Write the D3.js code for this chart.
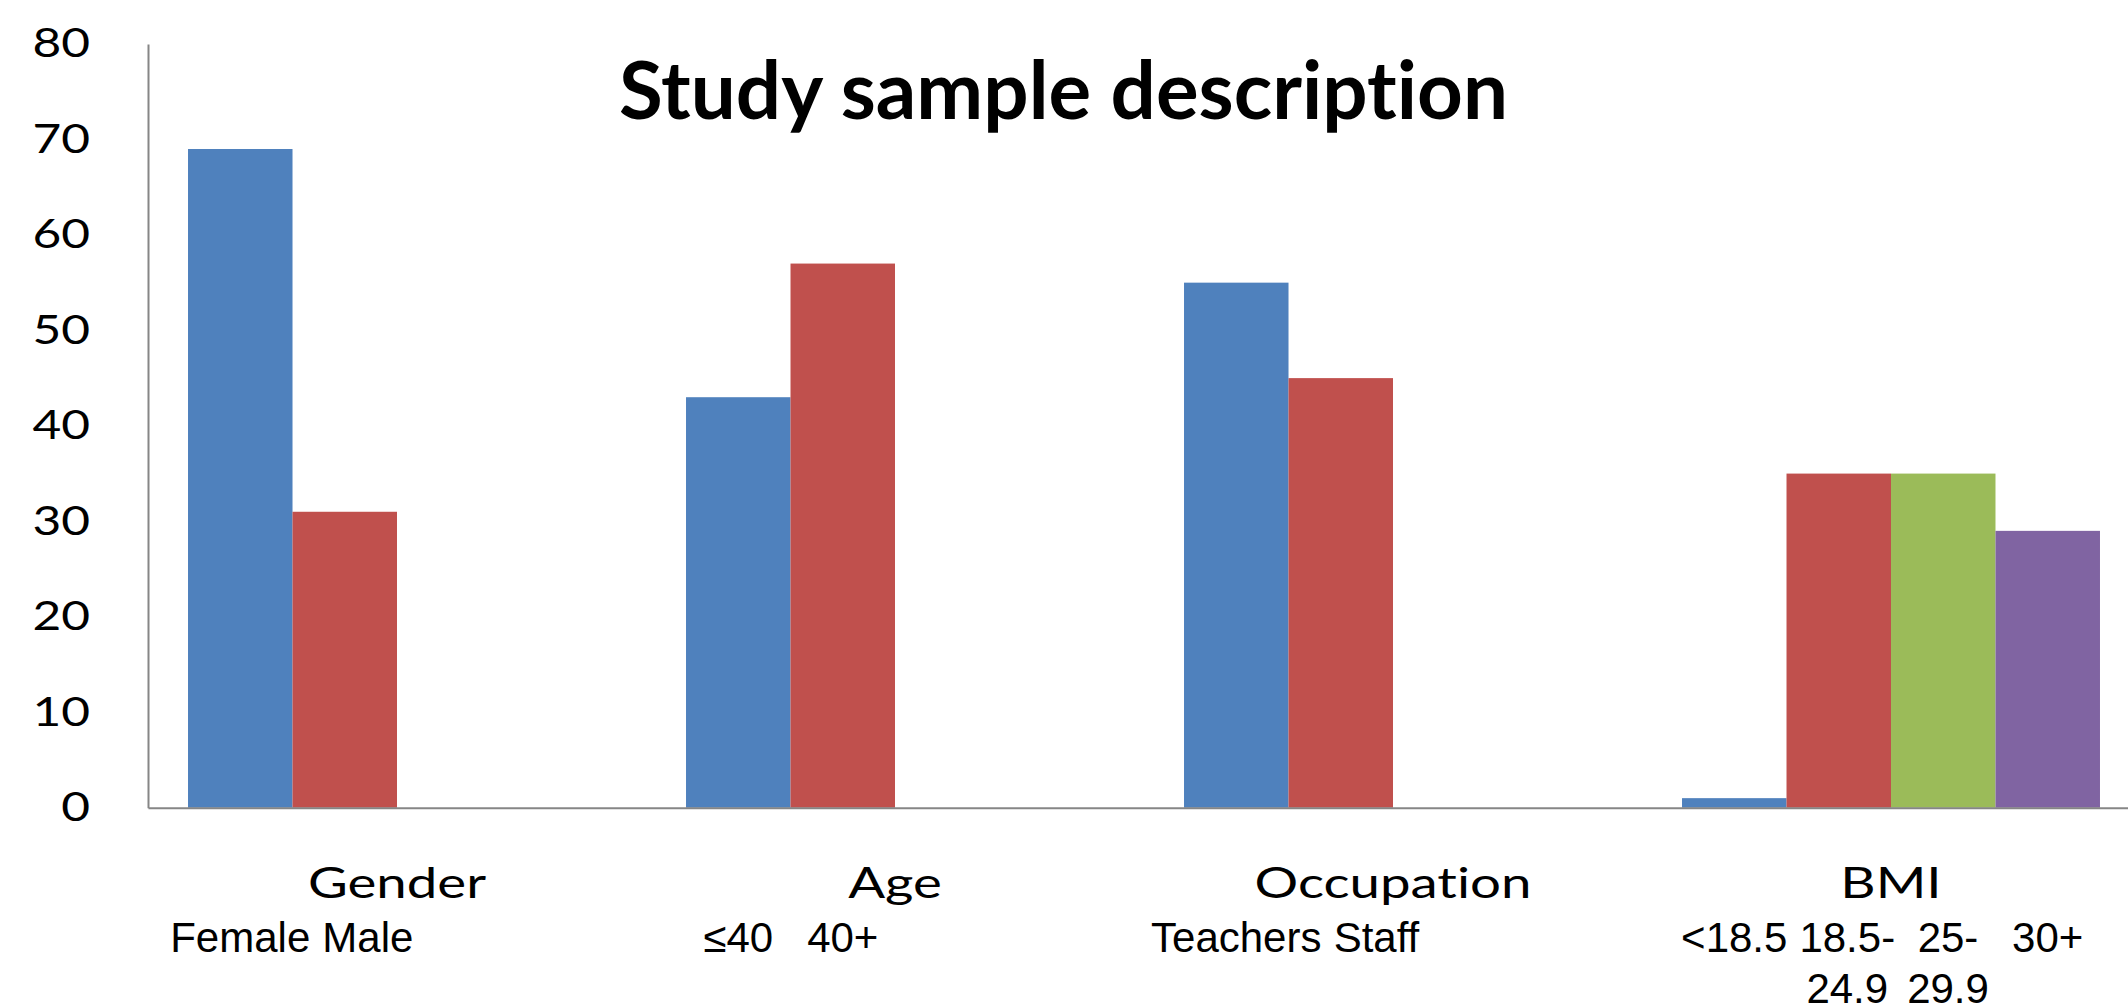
<!DOCTYPE html>
<html>
<head>
<meta charset="utf-8">
<script src="https://cdn.jsdelivr.net/npm/d3@7"></script>
<style>
  html, body { margin: 0; padding: 0; background: #ffffff; }
  svg { display: block; }
  text { font-variant-ligatures: none; }
</style>
</head>
<body>
<div id="chart"></div>
<script>
// Study sample description: share (%) of the sample in each subgroup
const categories = ["Gender", "Age", "Occupation", "BMI"];
const slots = ["s1", "s2", "s3", "s4"];
const series1 = [69, 43, 55, 1];
const series2 = [31, 57, 45, 35];
const series3 = [null, null, null, 35];
const series4 = [null, null, null, 29];
const subgroupLabels = [
  [["Female"], ["Male"]],
  [["≤40"], ["40+"]],
  [["Teachers"], ["Staff"]],
  [["<18.5"], ["18.5-", "24.9"], ["25-", "29.9"], ["30+"]]
];
const yTicks = [0, 10, 20, 30, 40, 50, 60, 70, 80];
const seriesColors = ["#4F81BD", "#C0504D", "#9BBB59", "#8064A2"];
const titleText = "Study sample description";

const W = 2128, H = 1005;
const axisX = 148, baseY = 807.7, topY = 44;

const svg = d3.select("#chart").append("svg")
  .attr("width", W).attr("height", H)
  .attr("viewBox", `0 0 ${W} ${H}`);

const y = d3.scaleLinear().domain([0, 80]).range([baseY, topY]);
const x0 = d3.scaleBand().domain(categories).range([axisX, 2140]).paddingInner(0).paddingOuter(0);
const x1 = d3.scaleBand().domain(slots).range([0, x0.bandwidth()]).paddingInner(0).paddingOuter(0.383);

// widen the axis lettering horizontally
function stretch(sel, k) {
  sel.each(function () {
    const w = this.getComputedTextLength();
    d3.select(this).attr("textLength", w * k).attr("lengthAdjust", "spacingAndGlyphs");
  });
}

// bars
const allSeries = [series1, series2, series3, series4];
const rows = [];
categories.forEach((c, ci) => {
  allSeries.forEach((s, si) => {
    if (s[ci] != null) rows.push({ cat: c, ci, slot: slots[si], si, value: s[ci] });
  });
});

svg.append("g").selectAll("rect").data(rows).join("rect")
  .attr("x", d => x0(d.cat) + x1(d.slot))
  .attr("y", d => y(d.value))
  .attr("width", x1.bandwidth())
  .attr("height", d => y(0) - y(d.value))
  .attr("fill", d => seriesColors[d.si]);

// y axis
const yAxis = svg.append("g")
  .attr("transform", `translate(${axisX},0)`)
  .call(d3.axisLeft(y).tickValues(yTicks).tickSize(0).tickSizeOuter(0).tickPadding(58));
yAxis.select(".domain").attr("stroke", "#868686").attr("stroke-width", 2);
yAxis.selectAll("text")
  .attr("font-family", "Lato, 'Open Sans', sans-serif")
  .attr("font-size", 40)
  .attr("fill", "#000");
stretch(yAxis.selectAll("text"), 1.24);

// category axis
const xAxis = svg.append("g")
  .attr("transform", `translate(0,${baseY})`)
  .call(d3.axisBottom(x0).tickSize(0).tickSizeOuter(0).tickPadding(60));
xAxis.select(".domain").attr("stroke", "#868686").attr("stroke-width", 2);
xAxis.selectAll("text")
  .attr("font-family", "Lato, 'Open Sans', sans-serif")
  .attr("font-size", 42)
  .attr("fill", "#000");
stretch(xAxis.selectAll("text"), 1.3);

// subgroup labels under each bar
const subRows = [];
categories.forEach((c, ci) => {
  subgroupLabels[ci].forEach((lines, si) => {
    subRows.push({ cat: c, slot: slots[si], lines, cx: x0(c) + x1(slots[si]) + x1.bandwidth() / 2 });
  });
});
const sub = svg.append("g").selectAll("text").data(subRows).join("text")
  .attr("y", 952)
  .attr("text-anchor", "middle")
  .attr("font-family", "'Liberation Sans', Arial, sans-serif")
  .attr("font-size", 42)
  .attr("fill", "#000");
sub.selectAll("tspan").data(d => d.lines).join("tspan")
  .attr("dy", (d, i) => i === 0 ? 0 : 51)
  .text(d => d);

// centre each label under its bar, nudging right where it would touch its neighbour
const gap = 12;
categories.forEach(c => {
  let prevRight = -Infinity;
  sub.filter(d => d.cat === c).each(function (d) {
    const el = d3.select(this);
    el.selectAll("tspan").attr("x", d.cx);
    const w = this.getBBox().width;
    let cx = d.cx;
    if (cx - w / 2 < prevRight + gap) cx = prevRight + gap + w / 2;
    el.selectAll("tspan").attr("x", cx);
    prevRight = cx + w / 2;
  });
});

// title
svg.append("text")
  .attr("x", 1063.5)
  .attr("y", 119)
  .attr("text-anchor", "middle")
  .attr("font-family", "Lato, 'Open Sans', sans-serif")
  .attr("font-weight", 700)
  .attr("font-size", 80)
  .attr("textLength", 889)
  .attr("lengthAdjust", "spacingAndGlyphs")
  .attr("fill", "#000")
  .text(titleText);
</script>
</body>
</html>
